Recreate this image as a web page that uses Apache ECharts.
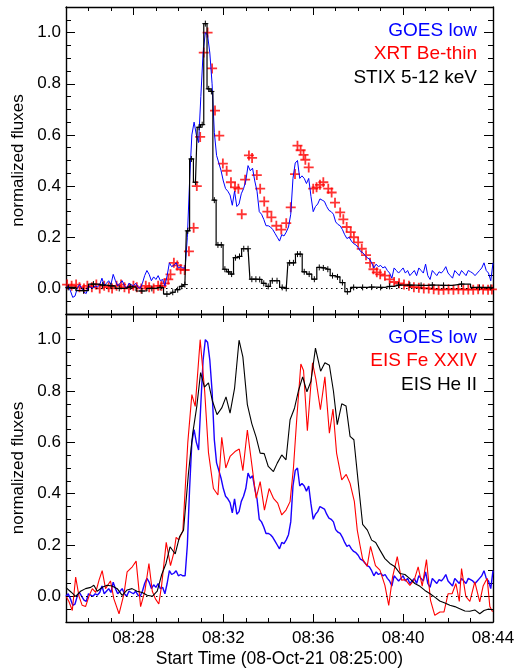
<!DOCTYPE html>
<html>
<head>
<meta charset="utf-8">
<script src="https://cdn.jsdelivr.net/npm/echarts@6/dist/echarts.min.js"></script>
<style>
  html, body { margin: 0; background: #fff; }
  #chart { width: 522px; height: 670px; }
</style>
</head>
<body>
<div id="chart"></div>
<script>
// all times are minutes after 08:25:00
const goesStart = 0
const goesStep = 0.1
const goesLow = [
  0.0, 0.01, -0.01, -0.035, -0.03, 0.0, 0.015, 0.0, -0.015, -0.02,
  0.01, 0.005, 0.0, 0.01, 0.005, 0.015, 0.04, 0.01, 0.02, 0.03,
  0.015, 0.055, 0.03, 0.01, 0.02, 0.03, 0.01, 0.0, 0.02, 0.015,
  0.01, 0.02, 0.005, 0.0, 0.02, 0.05, 0.07, 0.055, 0.03, 0.045,
  0.035, 0.05, 0.03, 0.035, 0.01, 0.05, 0.10, 0.085, 0.09, 0.10,
  0.08, 0.085, 0.08, 0.08, 0.20, 0.42, 0.60, 0.65, 0.60, 0.57,
  0.75, 0.92, 1.0, 0.99, 0.92, 0.80, 0.61, 0.52, 0.49, 0.46,
  0.42, 0.39, 0.38, 0.365, 0.325, 0.38, 0.32, 0.33, 0.37, 0.39,
  0.42, 0.48, 0.46, 0.47, 0.42, 0.38, 0.30, 0.29, 0.27, 0.245,
  0.245, 0.24, 0.23, 0.215, 0.20, 0.185, 0.21, 0.205, 0.22, 0.24,
  0.29, 0.43, 0.49, 0.50, 0.43, 0.44, 0.43, 0.41, 0.43, 0.36,
  0.30, 0.32, 0.33, 0.35, 0.345, 0.34, 0.32, 0.305, 0.30, 0.29,
  0.26, 0.25, 0.245, 0.23, 0.21, 0.195, 0.20, 0.185, 0.175, 0.17,
  0.16, 0.145, 0.14, 0.13, 0.12, 0.115, 0.10, 0.08, 0.095, 0.085,
  0.09, 0.08, 0.085, 0.07, 0.06, 0.04, 0.08, 0.07, 0.06, 0.07,
  0.08, 0.06, 0.07, 0.05, 0.06, 0.07, 0.05, 0.08, 0.07, 0.06,
  0.095, 0.05, 0.035, 0.07, 0.06, 0.05, 0.065, 0.06, 0.07, 0.085,
  0.06, 0.05, 0.04, 0.07, 0.06, 0.05, 0.07, 0.06, 0.05, 0.07,
  0.065, 0.06, 0.05, 0.06, 0.07, 0.08, 0.10, 0.07, 0.06, 0.03,
  0.10,
]

const xrtBeThin = [
  [0.05, 0.015], [0.25, 0.01], [0.45, 0.015], [0.6, 0.005], [0.8, 0.0], [0.95, 0.01],
  [1.15, 0.005], [1.35, 0.015], [1.5, 0.0], [1.7, 0.01], [1.9, 0.005], [2.05, 0.0],
  [2.25, 0.01], [2.45, 0.015], [2.6, 0.005], [2.8, 0.0], [3.0, 0.01], [3.15, 0.005],
  [3.35, 0.0], [3.55, 0.01], [3.7, 0.005], [3.9, 0.0], [4.1, 0.01], [4.25, 0.01],
  [4.4, 0.02], [4.55, 0.035], [4.65, 0.055], [4.8, 0.10], [4.95, 0.09], [5.1, 0.075],
  [5.28, 0.072], [5.47, 0.145], [5.68, 0.237], [5.82, 0.40], [5.97, 0.592], [6.13, 0.922],
  [6.3, 1.0], [6.5, 0.86], [6.63, 0.695], [6.82, 0.597], [6.98, 0.488], [7.15, 0.46],
  [7.34, 0.415], [7.52, 0.395], [7.67, 0.39], [7.82, 0.29], [7.97, 0.425], [8.14, 0.52],
  [8.28, 0.51], [8.49, 0.443], [8.64, 0.39], [8.82, 0.34], [8.96, 0.30], [9.14, 0.278],
  [9.36, 0.245], [9.58, 0.23], [9.8, 0.255], [10.0, 0.317], [10.19, 0.447], [10.3, 0.558],
  [10.44, 0.54], [10.57, 0.522], [10.65, 0.503], [10.8, 0.473], [11.0, 0.39], [11.15, 0.395],
  [11.3, 0.405], [11.45, 0.415], [11.67, 0.39], [11.82, 0.375], [11.97, 0.335], [12.2, 0.297],
  [12.34, 0.27], [12.49, 0.24], [12.67, 0.22], [12.81, 0.20], [13.0, 0.18], [13.16, 0.155],
  [13.35, 0.13], [13.53, 0.10], [13.68, 0.075], [13.83, 0.063], [13.98, 0.055], [14.19, 0.05],
  [14.4, 0.035], [14.6, 0.025], [14.82, 0.02], [15.04, 0.015], [15.26, 0.01], [15.48, 0.005],
  [15.7, 0.003], [15.92, 0.0], [16.14, 0.0], [16.36, -0.003], [16.58, -0.005], [16.8, -0.005],
  [17.02, -0.003], [17.24, -0.005], [17.46, -0.003], [17.68, -0.005], [17.9, -0.004], [18.12, -0.005],
  [18.34, -0.003], [18.56, -0.004], [18.78, -0.005], [18.95, -0.004],
]

// STIX bin centres and counts (drawn as a histogram)
const stix512 = [
  [0.1, 0.004], [0.78, -0.009], [1.22, 0.017], [1.63, 0.013], [2.0, 0.01], [2.37, 0.0],
  [2.86, 0.006], [3.38, -0.01], [3.82, 0.0], [4.19, 0.004], [4.49, -0.022], [4.75, -0.015],
  [4.97, -0.005], [5.15, 0.008], [5.29, 0.015], [5.42, 0.225], [5.58, 0.506], [5.76, 0.415],
  [5.92, 0.63], [6.06, 0.64], [6.2, 1.035], [6.35, 0.78], [6.47, 0.77], [6.6, 0.345],
  [6.76, 0.17], [6.91, 0.17], [7.07, 0.075], [7.23, 0.065], [7.37, 0.056], [7.54, 0.12],
  [7.72, 0.125], [7.91, 0.155], [8.1, 0.155], [8.27, 0.036], [8.45, 0.036], [8.62, 0.035],
  [8.8, 0.02], [9.0, 0.008], [9.18, 0.03], [9.39, 0.03], [9.62, 0.004], [9.8, 0.0],
  [9.95, 0.10], [10.12, 0.10], [10.3, 0.134], [10.42, 0.134], [10.6, 0.065], [10.82, 0.056],
  [11.05, 0.036], [11.27, 0.082], [11.45, 0.08], [11.65, 0.075], [11.86, 0.05], [12.08, 0.045],
  [12.3, 0.023], [12.52, -0.013], [12.8, 0.004], [13.2, 0.004], [13.6, 0.005], [14.0, 0.004],
  [14.4, 0.008], [14.8, 0.013], [15.3, 0.013], [15.8, 0.012], [16.3, 0.013], [16.8, 0.012],
  [17.6, 0.017], [18.4, 0.004], [18.9, 0.004],
]

const eisFe24 = [
  [0.0, 0.0], [0.13, -0.02], [0.28, -0.055], [0.43, 0.075], [0.58, 0.0], [0.72, -0.035],
  [0.87, -0.04], [1.02, 0.0], [1.17, 0.03], [1.32, 0.015], [1.47, 0.063], [1.61, 0.10],
  [1.76, 0.03], [1.98, 0.06], [2.13, -0.01], [2.36, -0.068], [2.58, 0.01], [2.72, 0.095],
  [2.95, 0.115], [3.12, 0.137], [3.32, -0.04], [3.51, 0.02], [3.69, 0.128], [3.84, 0.02],
  [3.98, -0.01], [4.13, -0.03], [4.25, 0.04], [4.46, 0.21], [4.65, 0.12], [4.8, 0.17],
  [4.9, 0.23], [5.02, 0.22], [5.2, 0.255], [5.42, 0.60], [5.6, 0.786], [5.75, 0.74],
  [5.97, 1.0], [6.17, 0.80], [6.34, 0.56], [6.56, 0.42], [6.76, 0.395], [6.93, 0.62],
  [7.11, 0.50], [7.3, 0.545], [7.52, 0.564], [7.71, 0.574], [7.87, 0.49], [8.07, 0.648],
  [8.27, 0.512], [8.46, 0.382], [8.64, 0.447], [8.83, 0.336], [9.04, 0.42], [9.23, 0.382],
  [9.42, 0.363], [9.6, 0.317], [9.79, 0.336], [9.97, 0.369], [10.12, 0.50], [10.27, 0.695],
  [10.45, 0.905], [10.57, 0.88], [10.74, 0.645], [10.97, 0.91], [11.12, 0.845], [11.32, 0.727],
  [11.52, 0.855], [11.72, 0.636], [11.88, 0.73], [12.04, 0.558], [12.27, 0.454], [12.47, 0.475],
  [12.64, 0.44], [12.83, 0.37], [12.96, 0.258], [13.08, 0.2], [13.2, 0.145], [13.4, 0.117],
  [13.55, 0.195], [13.77, 0.12], [13.97, 0.102], [14.19, 0.043], [14.36, -0.035], [14.53, 0.075],
  [14.74, 0.155], [14.93, 0.063], [15.1, 0.065], [15.3, 0.043], [15.5, 0.065], [15.67, 0.115],
  [15.85, 0.04], [16.04, 0.143], [16.22, -0.016], [16.41, -0.074], [16.64, -0.061], [16.82, -0.061],
  [17.0, 0.01], [17.18, 0.01], [17.35, 0.05], [17.5, -0.02], [17.6, 0.108], [17.79, 0.0],
  [17.97, -0.02], [18.19, 0.056], [18.41, -0.022], [18.56, 0.04], [18.74, 0.07], [18.86, -0.04],
  [18.98, -0.06],
]

const eisHe2 = [
  [0.0, 0.034], [0.22, 0.017], [0.43, 0.0], [0.65, 0.02], [0.87, 0.03], [1.1, 0.035],
  [1.24, 0.043], [1.39, 0.02], [1.61, 0.035], [1.83, 0.043], [2.05, 0.04], [2.28, 0.03],
  [2.5, 0.004], [2.72, 0.025], [2.94, 0.03], [3.16, 0.02], [3.39, 0.015], [3.61, 0.004],
  [3.84, 0.0], [4.06, 0.02], [4.26, 0.085], [4.45, 0.128], [4.63, 0.193], [4.86, 0.165],
  [5.05, 0.232], [5.23, 0.258], [5.45, 0.48], [5.64, 0.636], [5.82, 0.74], [5.99, 0.872],
  [6.16, 0.815], [6.34, 0.832], [6.52, 0.76], [6.72, 0.708], [6.93, 0.734], [7.12, 0.777],
  [7.3, 0.714], [7.5, 0.81], [7.7, 0.998], [7.87, 0.933], [8.07, 0.747], [8.27, 0.672],
  [8.46, 0.62], [8.64, 0.558], [8.82, 0.556], [9.0, 0.506], [9.23, 0.486], [9.4, 0.519],
  [9.6, 0.551], [9.79, 0.532], [9.97, 0.688], [10.17, 0.734], [10.34, 0.80], [10.53, 0.855],
  [10.72, 0.797], [10.9, 0.838], [11.1, 0.967], [11.33, 0.877], [11.52, 0.91], [11.72, 0.9],
  [11.9, 0.80], [12.07, 0.669], [12.27, 0.75], [12.46, 0.742], [12.64, 0.623], [12.81, 0.61],
  [13.0, 0.447], [13.2, 0.28], [13.41, 0.258], [13.6, 0.219], [13.78, 0.21], [13.97, 0.18],
  [14.19, 0.147], [14.41, 0.128], [14.64, 0.115], [14.86, 0.089], [15.08, 0.085], [15.3, 0.069],
  [15.52, 0.05], [15.75, 0.039], [15.97, 0.023], [16.2, 0.01], [16.41, -0.003], [16.63, -0.018],
  [16.86, -0.026], [17.08, -0.035], [17.3, -0.04], [17.52, -0.048], [17.75, -0.057], [17.97, -0.058],
  [18.19, -0.053], [18.41, -0.068], [18.6, -0.055], [18.78, -0.05], [19.0, -0.052],
]

const timeTicks = [3, 7, 11, 15, 19]
const timeMinor = [1, 2, 4, 5, 6, 8, 9, 10, 12, 13, 14, 16, 17, 18]
const fluxTicks = [0, 0.2, 0.4, 0.6, 0.8, 1.0]
const fluxMinor = [-0.05, 0.05, 0.1, 0.15, 0.25, 0.3, 0.35, 0.45, 0.5, 0.55, 0.65, 0.7, 0.75, 0.85, 0.9, 0.95, 1.05]
const topLegend = [['GOES low', '#0000ff'], ['XRT Be-thin', '#ff0000'], ['STIX 5-12 keV', '#000000']]
const bottomLegend = [['GOES low', '#0000ff'], ['EIS Fe XXIV', '#ff0000'], ['EIS He II', '#000000']]

const FONT = 'Liberation Sans'
const CROSS = 'path://M0,5L10,5M5,0L5,10'

const chart = echarts.init(document.getElementById('chart'), null, { renderer: 'canvas' })

const goesData = goesLow.map((v, i) => [+(goesStart + i * goesStep).toFixed(2), v])

function xAxes(grid, withLabels) {
  const base = { type: 'value', gridIndex: grid, min: 0, max: 19, splitLine: { show: false } }
  const line = { onZero: false, lineStyle: { color: '#000', width: 1.4 } }
  const major = (pos, labels) => ({
    ...base,
    position: pos,
    axisLine: line,
    axisTick: { inside: true, length: 8, customValues: timeTicks, lineStyle: { color: '#000' } },
    axisLabel: {
      show: labels,
      customValues: timeTicks,
      margin: 8,
      color: '#000',
      fontFamily: FONT,
      fontSize: 17,
      formatter: (v) => '08:' + String(25 + v).padStart(2, '0'),
    },
    name: labels ? 'Start Time (08-Oct-21 08:25:00)' : '',
    nameLocation: 'middle',
    nameGap: 28,
    nameTextStyle: { color: '#000', fontFamily: FONT, fontSize: 17.5 },
  })
  const minor = (pos) => ({
    ...base,
    position: pos,
    axisLine: { show: false, onZero: false },
    axisTick: { inside: true, length: 4, customValues: timeMinor, lineStyle: { color: '#000' } },
    axisLabel: { show: false },
  })
  return [major('bottom', withLabels), minor('bottom'), major('top', false), minor('top')]
}

function yAxes(grid) {
  const base = { type: 'value', gridIndex: grid, min: -0.1, max: 1.1, splitLine: { show: false } }
  const line = { onZero: false, lineStyle: { color: '#000', width: 1.4 } }
  const major = (pos, labels) => ({
    ...base,
    position: pos,
    axisLine: line,
    axisTick: { inside: true, length: 9, customValues: fluxTicks, lineStyle: { color: '#000' } },
    axisLabel: {
      show: labels,
      customValues: fluxTicks,
      margin: 5,
      color: '#000',
      fontFamily: FONT,
      fontSize: 17,
      formatter: (v) => v.toFixed(1),
    },
    name: labels ? 'normalized fluxes' : '',
    nameLocation: 'middle',
    nameGap: 38,
    nameTextStyle: { color: '#000', fontFamily: FONT, fontSize: 17 },
  })
  const minor = (pos) => ({
    ...base,
    position: pos,
    axisLine: { show: false, onZero: false },
    axisTick: { inside: true, length: 5, customValues: fluxMinor, lineStyle: { color: '#000' } },
    axisLabel: { show: false },
  })
  return [major('left', true), minor('left'), major('right', false), minor('right')]
}

const zeroLine = {
  silent: true,
  symbol: ['none', 'none'],
  label: { show: false },
  lineStyle: { type: [1.5, 3.5], color: '#000', width: 1 },
  data: [{ yAxis: 0 }],
}

function legendText(items, y0) {
  return items.map(([text, color], i) => ({
    type: 'text',
    x: 477,
    y: y0 + i * 23.2,
    style: { text, fill: color, font: `19px "${FONT}"`, align: 'right', verticalAlign: 'middle' },
  }))
}

chart.setOption({
  animation: false,
  backgroundColor: '#fff',
  grid: [
    { left: 66, right: 29, top: 7, height: 307 },
    { left: 66, right: 29, top: 314, height: 308 },
  ],
  xAxis: [...xAxes(0, false), ...xAxes(1, true)],
  yAxis: [...yAxes(0), ...yAxes(1)],
  series: [
    {
      name: 'GOES low',
      type: 'line',
      xAxisIndex: 0,
      yAxisIndex: 0,
      data: goesData,
      showSymbol: false,
      lineStyle: { color: '#0000ff', width: 1 },
      markLine: zeroLine,
    },
    {
      name: 'STIX 5-12 keV',
      type: 'line',
      xAxisIndex: 0,
      yAxisIndex: 0,
      data: stix512,
      step: 'middle',
      symbol: CROSS,
      symbolSize: 6,
      itemStyle: { color: 'rgba(0,0,0,0)', borderColor: '#000', borderWidth: 1 },
      lineStyle: { color: '#000', width: 1.2 },
    },
    {
      name: 'XRT Be-thin',
      type: 'scatter',
      xAxisIndex: 0,
      yAxisIndex: 0,
      data: xrtBeThin,
      symbol: CROSS,
      symbolSize: 10,
      itemStyle: { color: 'rgba(0,0,0,0)', borderColor: '#ff0000', borderWidth: 1.8 },
    },
    {
      name: 'GOES low',
      type: 'line',
      xAxisIndex: 4,
      yAxisIndex: 4,
      data: goesData,
      showSymbol: false,
      lineStyle: { color: '#1a00ff', width: 1.4 },
      markLine: zeroLine,
    },
    {
      name: 'EIS Fe XXIV',
      type: 'line',
      xAxisIndex: 4,
      yAxisIndex: 4,
      data: eisFe24,
      showSymbol: false,
      lineStyle: { color: '#ff0000', width: 1.1 },
    },
    {
      name: 'EIS He II',
      type: 'line',
      xAxisIndex: 4,
      yAxisIndex: 4,
      data: eisHe2,
      showSymbol: false,
      lineStyle: { color: '#000', width: 1.1 },
    },
  ],
  graphic: [...legendText(topLegend, 31), ...legendText(bottomLegend, 338)],
})
</script>
</body>
</html>
